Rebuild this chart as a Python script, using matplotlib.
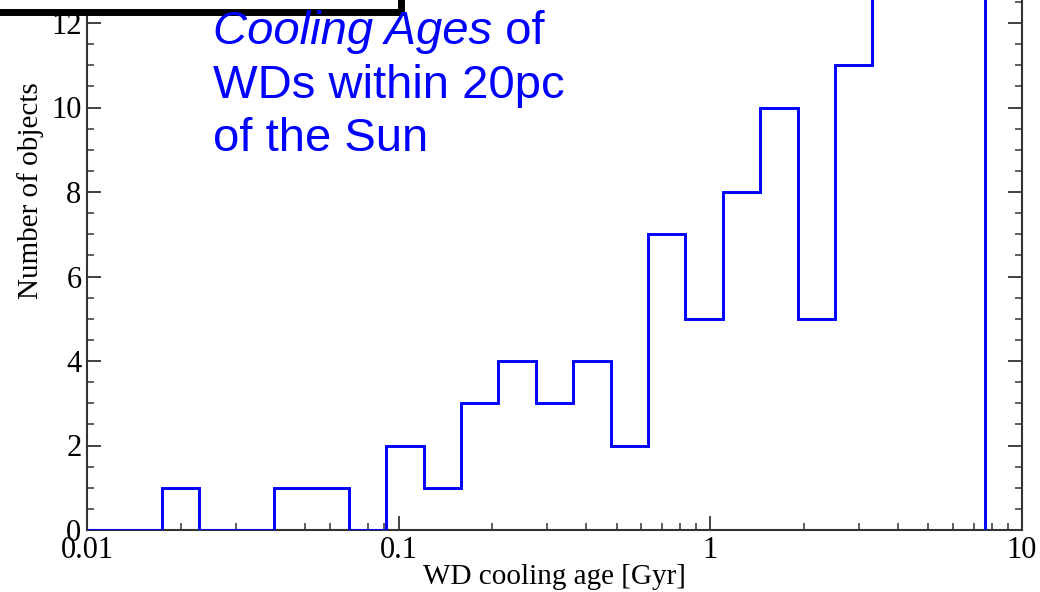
import numpy as np
import matplotlib
matplotlib.use("Agg")
import matplotlib.pyplot as plt
from matplotlib.patches import Rectangle
from matplotlib.ticker import FixedLocator, FuncFormatter, LogLocator

# Histogram of white-dwarf cooling ages (log-spaced bins, 0.12 dex wide)
log_age_start = -2.0
log_bin_width = 0.12
counts = [0, 0, 1, 0, 0, 1, 1, 0, 2, 1, 3, 4, 3, 4, 2, 7, 5, 8, 10, 5, 11, 17, 24, 22]
bin_edges = 10 ** (log_age_start + log_bin_width * np.arange(len(counts) + 1))

x_ticks = [0.01, 0.1, 1, 10]
x_tick_labels = ["0.01", "0.1", "1", "10"]
y_ticks = [0, 2, 4, 6, 8, 10, 12]

serif = "Liberation Serif"
sans = "Liberation Sans"

fig = plt.figure(figsize=(10.4, 5.92), dpi=100)
W, H = 1040, 592
x0, x1 = 87, 1022
y_zero = 530
px_per_unit = 42.25
y_top_val = 14.0
ax_h_px = y_top_val * px_per_unit
ax = fig.add_axes([x0 / W, 1 - y_zero / H, (x1 - x0) / W, ax_h_px / H])

ax.stairs(counts, bin_edges, color="#0000ff", linewidth=2.1, zorder=3)

ax.set_xscale("log")
ax.set_xlim(0.01, 10)
ax.set_ylim(0, y_top_val)

ax.xaxis.set_major_locator(FixedLocator(x_ticks))
ax.xaxis.set_major_formatter(FuncFormatter(lambda v, p: x_tick_labels[x_ticks.index(v)] if v in x_ticks else ""))
ax.xaxis.set_minor_locator(LogLocator(base=10, subs=np.arange(2, 10)))
ax.xaxis.set_minor_formatter(FuncFormatter(lambda v, p: ""))
ax.set_yticks(y_ticks)
ax.set_yticks(np.arange(0, y_top_val + 0.01, 0.5), minor=True)

for s in ax.spines.values():
    s.set_linewidth(1.5)
    s.set_color("#333333")
ax.spines["top"].set_visible(False)

ax.tick_params(axis="both", which="major", direction="in", length=10, width=1.3,
               color="#333333", labelsize=22, pad=4)
ax.tick_params(axis="both", which="minor", direction="in", length=5, width=1.1, color="#333333")
ax.tick_params(axis="y", which="both", left=True, right=True)
ax.tick_params(axis="x", which="both", top=False)
for lab in ax.get_xticklabels() + ax.get_yticklabels():
    lab.set_fontfamily(serif)

ax.set_xlabel("WD cooling age [Gyr]", fontfamily=serif, fontsize=21)
ax.xaxis.set_label_coords(0.5, -(564 - y_zero) / ax_h_px)
ax.set_ylabel("Number of objects", fontfamily=serif, fontsize=21)
ax.yaxis.set_label_coords((44 - x0) / (x1 - x0), (y_zero - 191) / ax_h_px)

# Boxed panel at the top left, drawn over the axes
box = Rectangle((-0.05, 1 - 12 / H), 401 / W + 0.05, 0.2, transform=fig.transFigure,
                facecolor="white", edgecolor="black", linewidth=5, zorder=5)
fig.patches.append(box)

# Title text
tx = 213 / W
fs = 34
t1 = fig.text(tx, 1 - 44 / H, "Cooling Ages", color="#0000ff", fontsize=fs,
              fontfamily=sans, style="italic", va="baseline", zorder=6)
ax.annotate(" of", xy=(1, 0), xycoords=t1, va="bottom", ha="left", color="#0000ff",
            fontsize=fs, fontfamily=sans, zorder=6, annotation_clip=False)
fig.text(tx, 1 - 98 / H, "WDs within 20pc", color="#0000ff", fontsize=fs,
         fontfamily=sans, va="baseline", zorder=6)
fig.text(tx, 1 - 151 / H, "of the Sun", color="#0000ff", fontsize=fs,
         fontfamily=sans, va="baseline", zorder=6)

fig.savefig("out.png", dpi=100)
